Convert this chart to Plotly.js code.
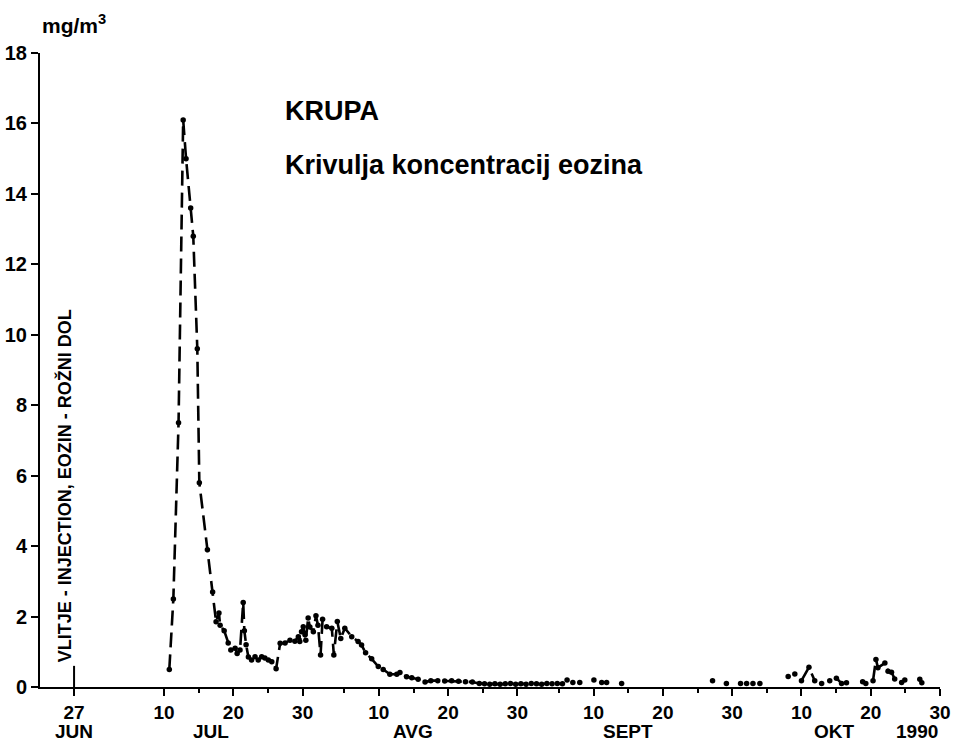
<!DOCTYPE html>
<html>
<head>
<meta charset="utf-8">
<script src="https://cdn.plot.ly/plotly-3.0.1.min.js"></script>
<style>html,body{margin:0;padding:0;background:#fff;}#chart{width:957px;height:741px;}</style>
</head>
<body>
<div id="chart"></div>
<script>
// Sampling times and eosin concentrations (mg/m3); null = no connecting line
const dates = [
 '1990-07-10 18:00','1990-07-11 08:00','1990-07-12 02:00','1990-07-12 18:00','1990-07-13 04:00',
 '1990-07-13 20:00','1990-07-14 05:00','1990-07-14 19:00','1990-07-15 02:00','1990-07-16 06:00',
 '1990-07-17 00:00','1990-07-17 12:00','1990-07-17 22:00','1990-07-18 02:00','1990-07-18 16:00',
 '1990-07-19 06:00','1990-07-19 15:00','1990-07-20 06:00','1990-07-20 13:00','1990-07-20 23:00',
 '1990-07-21 10:00','1990-07-21 14:00','1990-07-21 20:00','1990-07-22 04:00','1990-07-22 15:00',
 '1990-07-23 03:00','1990-07-23 14:00','1990-07-24 02:00','1990-07-24 13:00','1990-07-25 01:00',
 '1990-07-25 13:00','1990-07-26 04:00','1990-07-26 18:00','1990-07-27 11:00','1990-07-28 04:00',
 '1990-07-28 21:00','1990-07-29 09:00','1990-07-29 14:00','1990-07-29 20:00','1990-07-30 02:00',
 '1990-07-30 08:00','1990-07-30 11:00','1990-07-30 19:00','1990-07-31 01:00','1990-07-31 13:00',
 '1990-07-31 22:00','1990-08-01 05:00','1990-08-01 14:00','1990-08-01 21:00','1990-08-02 11:00',
 '1990-08-03 05:00','1990-08-03 12:00','1990-08-04 00:00','1990-08-04 12:00','1990-08-05 02:00',
 '1990-08-06 02:00','1990-08-07 00:00','1990-08-07 12:00','1990-08-08 02:00','1990-08-08 23:00',
 '1990-08-09 22:00','1990-08-10 15:00','1990-08-11 14:00','1990-08-12 14:00','1990-08-13 01:00',
 '1990-08-14 00:00','1990-08-14 18:00','1990-08-15 16:00','1990-08-16 16:00','1990-08-17 12:00',
 '1990-08-18 12:00','1990-08-19 12:00','1990-08-20 12:00','1990-08-21 12:00','1990-08-22 12:00',
 '1990-08-23 12:00','1990-08-24 12:00','1990-08-25 06:00','1990-08-26 00:00','1990-08-26 18:00',
 '1990-08-27 12:00','1990-08-28 06:00','1990-08-29 00:00','1990-08-29 18:00','1990-08-30 12:00',
 '1990-08-31 06:00','1990-09-01 00:00','1990-09-01 18:00','1990-09-02 12:00','1990-09-03 06:00',
 '1990-09-04 00:00','1990-09-04 18:00','1990-09-05 12:00','1990-09-05 20:00',
 '1990-09-06 04:00','1990-09-06 14:00','1990-09-07 00:00','1990-09-07 12:00','1990-09-08 00:00','1990-09-09 00:00',
 '1990-09-10 01:00','1990-09-10 14:00','1990-09-11 04:00','1990-09-11 12:00','1990-09-11 21:00','1990-09-13 00:00',
 '1990-09-14 01:00','1990-09-20 00:00','1990-09-27 04:00','1990-09-28 00:00','1990-09-29 04:00','1990-09-30 00:00',
 '1990-10-01 05:00','1990-10-01 16:00','1990-10-02 02:00','1990-10-02 12:00','1990-10-03 00:00','1990-10-03 12:00',
 '1990-10-04 00:00','1990-10-06 00:00','1990-10-08 02:00','1990-10-08 14:00','1990-10-09 01:00','1990-10-09 12:00',
 '1990-10-10 00:00','1990-10-11 02:00','1990-10-11 22:00','1990-10-12 10:00','1990-10-12 22:00','1990-10-13 12:00',
 '1990-10-14 02:00','1990-10-14 14:00','1990-10-15 01:00','1990-10-15 19:00','1990-10-16 12:00','1990-10-17 12:00',
 '1990-10-18 20:00','1990-10-19 07:00','1990-10-19 20:00','1990-10-20 08:00','1990-10-20 18:00','1990-10-21 01:00',
 '1990-10-22 01:00','1990-10-22 12:00','1990-10-23 00:00','1990-10-23 11:00','1990-10-24 11:00','1990-10-24 22:00',
 '1990-10-26 00:00','1990-10-27 02:00','1990-10-27 09:00'
];
const values = [
 0.5, 2.5, 7.5, 16.1, 15.0,
 13.6, 12.8, 9.6, 5.8, 3.9,
 2.7, 1.85, 2.1, 1.75, 1.6,
 1.25, 1.05, 1.1, 0.95, 1.05,
 2.4, 1.6, 1.2, 0.85, 0.77,
 0.86, 0.77, 0.86, 0.82, 0.77,
 0.72, 0.52, 1.24, 1.25, 1.33,
 1.3, 1.43, 1.29, 1.57, 1.71,
 1.48, 1.33, 1.96, 1.7, 1.57,
 2.02, 1.75, 0.91, 1.92, 1.71,
 1.67, 0.91, 1.86, 1.38, 1.67,
 1.43, 1.29, 1.19, 0.97, 0.8,
 0.58, 0.5, 0.36, 0.36, 0.41,
 0.29, 0.26, 0.22, 0.14, 0.18,
 0.18, 0.17, 0.18, 0.16, 0.15,
 0.14, 0.1, 0.09, 0.08, 0.09,
 0.08, 0.09, 0.1, 0.08, 0.09,
 0.08, 0.1, 0.09, 0.08, 0.1,
 0.09, 0.1, 0.09, null,
 0.2, null, 0.13, null, 0.13, null,
 0.2, null, 0.13, null, 0.13, null,
 0.1, null, 0.18, null, 0.1, null,
 0.1, null, 0.1, null, 0.1, null,
 0.1, null, 0.3, null, 0.37, null,
 0.18, 0.56, 0.18, null, 0.1, null,
 0.18, null, 0.25, 0.1, 0.12, null,
 0.15, 0.1, null, 0.18, 0.78, 0.55,
 0.68, 0.45, 0.42, 0.23, 0.13, 0.2,
 null, 0.22, 0.12
];

const dayTickVals = ['1990-06-27','1990-07-10','1990-07-20','1990-07-30','1990-08-10','1990-08-20','1990-08-30',
  '1990-09-10','1990-09-20','1990-09-30','1990-10-10','1990-10-20','1990-10-30'];
const dayTickText = ['27','10','20','30','10','20','30','10','20','30','10','20','30'];
const minorTickVals = ['1990-07-15','1990-07-25','1990-08-05','1990-08-15','1990-08-25','1990-09-05',
  '1990-09-15','1990-09-25','1990-10-05','1990-10-15','1990-10-25'];
const monthLabels = ['JUN','JUL','AVG','SEPT','OKT','1990'];
const monthPos = ['1990-06-27','1990-07-16 20:00','1990-08-14 22:00','1990-09-14 22:00','1990-10-14 20:00','1990-10-30'];
const monthAnchor = ['center','center','center','center','center','right'];
const yTickVals = [0,2,4,6,8,10,12,14,16,18];

const injectionDate = '1990-06-27';
const injectionText = 'VLITJE - INJECTION, EOZIN - ROŽNI DOL';

const trace = {
  x: dates, y: values, type: 'scatter', mode: 'lines+markers',
  connectgaps: false,
  line: {color: '#000', width: 2.6, dash: '15px,7px'},
  marker: {color: '#000', size: 5.5},
  hoverinfo: 'x+y'
};

const F = 'Liberation Sans, Arial, Helvetica, sans-serif';

const annotations = [
  {xref:'paper', yref:'paper', x:0.27, y:0.908, xanchor:'left', yanchor:'middle', showarrow:false,
   text:'KRUPA', font:{family:F, size:27, color:'#000', weight:'bold'}},
  {xref:'paper', yref:'paper', x:0.27, y:0.823, xanchor:'left', yanchor:'middle', showarrow:false,
   text:'Krivulja koncentracij eozina', font:{family:F, size:27, color:'#000', weight:'bold'}},
  {xref:'paper', yref:'paper', x:0.0, y:1.022, xanchor:'left', yanchor:'bottom', showarrow:false,
   text:'mg/m<sup>3</sup>', font:{family:F, size:21, color:'#000', weight:'bold'}},
  {xref:'x', yref:'paper', x:injectionDate, xshift:-10, y:0.035, xanchor:'center', yanchor:'bottom', showarrow:false,
   textangle:-90, text:injectionText, font:{family:F, size:18, color:'#000', weight:'bold'}}
];
monthLabels.forEach((t,i)=>{
  annotations.push({xref:'x', yref:'paper', x:monthPos[i], y:-0.07, xanchor:monthAnchor[i], yanchor:'middle',
    showarrow:false, text:t, font:{family:F, size:19, color:'#000', weight:'bold'}});
});

const layout = {
  width: 957, height: 741,
  margin: {l:40, r:17, t:53, b:54},
  paper_bgcolor:'#fff', plot_bgcolor:'#fff',
  showlegend:false,
  xaxis: {
    type:'date', range:['1990-06-22 02:00','1990-10-30 00:00'],
    tickmode:'array', tickvals:dayTickVals, ticktext:dayTickText,
    ticks:'outside', ticklen:7, tickwidth:2, tickcolor:'#000',
    minor:{tickmode:'array', tickvals:minorTickVals, ticks:'outside', ticklen:4, tickwidth:2, tickcolor:'#000', showgrid:false},
    showline:true, linecolor:'#000', linewidth:2, showgrid:false, zeroline:false,
    tickfont:{family:F, size:19, color:'#000', weight:'bold'}
  },
  yaxis: {
    range:[0,18], tickmode:'array', tickvals:yTickVals,
    ticks:'outside', ticklen:7, tickwidth:2, tickcolor:'#000',
    showline:true, linecolor:'#000', linewidth:2, showgrid:false, zeroline:false,
    tickfont:{family:F, size:20, color:'#000', weight:'bold'}
  },
  shapes: [
    {type:'line', xref:'x', yref:'y', x0:injectionDate, x1:injectionDate, y0:0, y1:0.6,
     line:{color:'#000', width:2}}
  ],
  annotations: annotations
};

Plotly.newPlot('chart', [trace], layout, {displayModeBar:false, staticPlot:true});
</script>
</body>
</html>
